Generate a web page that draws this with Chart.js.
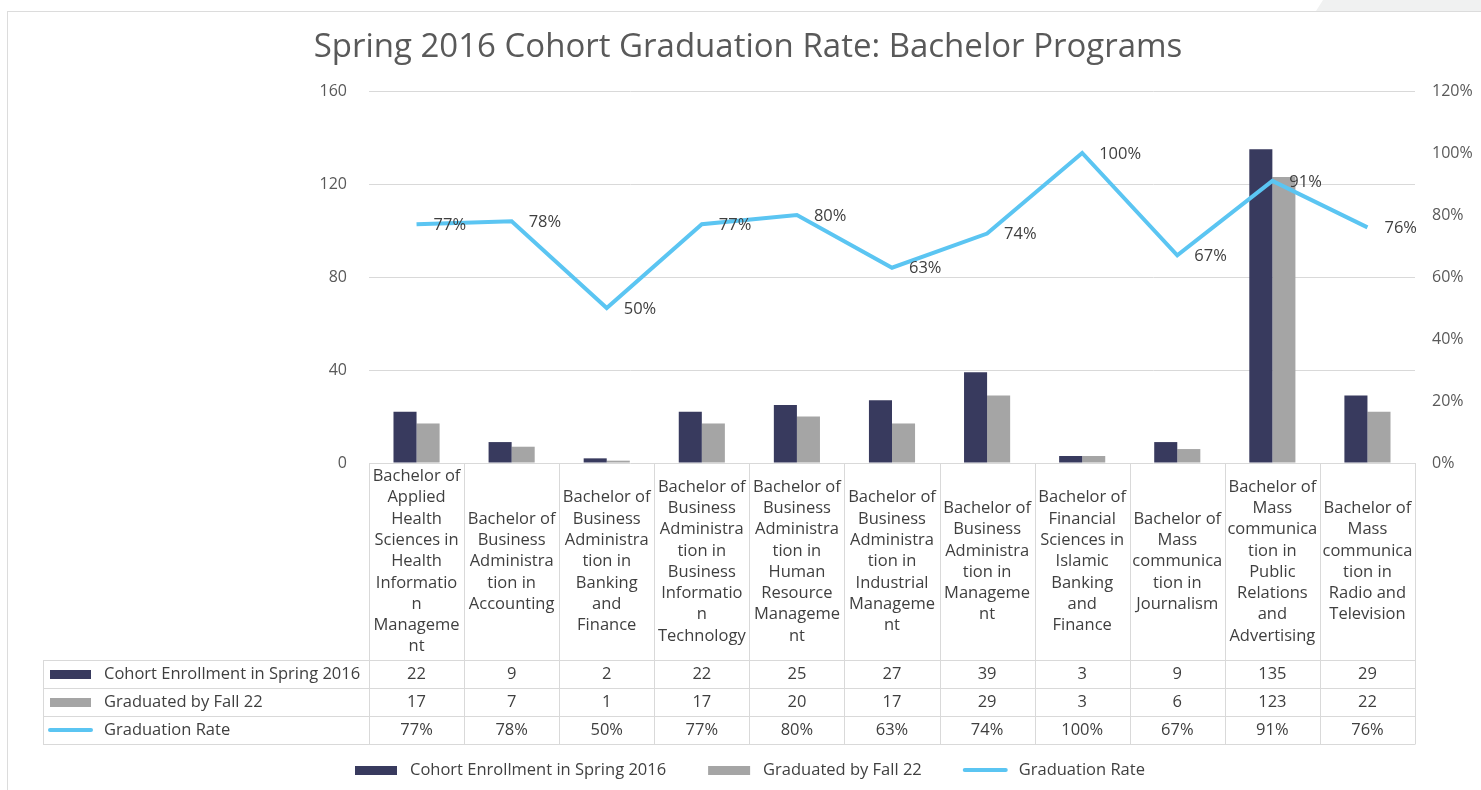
<!DOCTYPE html>
<html><head><meta charset="utf-8">
<script src="https://cdn.jsdelivr.net/npm/chart.js@4.4.0/dist/chart.umd.min.js"></script>
<style>
html,body{margin:0;padding:0;background:#fff;}
#wrap{position:relative;width:1481px;height:790px;overflow:hidden;background:#fff;}
#frame{position:absolute;left:7px;top:11px;width:1520px;height:820px;border:1px solid #dcdcdc;box-sizing:border-box;}
#corner{position:absolute;left:1316px;top:0;width:170px;height:11px;background:#f0f1f1;clip-path:polygon(7px 0,100% 0,100% 100%,0 100%);}
canvas{position:absolute;left:0;top:0;}
</style></head><body>
<div id="wrap"><div id="corner"></div><div id="frame"></div><canvas id="c" width="1481" height="790"></canvas></div>
<script>
const titleText = 'Spring 2016 Cohort Graduation Rate: Bachelor Programs';
const categories = [
  ['Bachelor of','Applied','Health','Sciences in','Health','Informatio','n','Manageme','nt'],
  ['Bachelor of','Business','Administra','tion in','Accounting'],
  ['Bachelor of','Business','Administra','tion in','Banking','and','Finance'],
  ['Bachelor of','Business','Administra','tion in','Business','Informatio','n','Technology'],
  ['Bachelor of','Business','Administra','tion in','Human','Resource','Manageme','nt'],
  ['Bachelor of','Business','Administra','tion in','Industrial','Manageme','nt'],
  ['Bachelor of','Business','Administra','tion in','Manageme','nt'],
  ['Bachelor of','Financial','Sciences in','Islamic','Banking','and','Finance'],
  ['Bachelor of','Mass','communica','tion in','Journalism'],
  ['Bachelor of','Mass','communica','tion in','Public','Relations','and','Advertising'],
  ['Bachelor of','Mass','communica','tion in','Radio and','Television']
];
const seriesNames = ['Cohort Enrollment in Spring 2016', 'Graduated by Fall 22', 'Graduation Rate'];
const enrollment = [22, 9, 2, 22, 25, 27, 39, 3, 9, 135, 29];
const graduated  = [17, 7, 1, 17, 20, 17, 29, 3, 6, 123, 22];
const gradRate   = [77, 78, 50, 77, 80, 63, 74, 100, 67, 91, 76];
const leftTicks  = [0, 40, 80, 120, 160];
const rightTicks = [0, 20, 40, 60, 80, 100, 120];

const colors = {dark:'#383a5e', grey:'#a5a5a5', line:'#5bc5f2', grid:'#d9d9d9', text:'#3f3f3f', axis:'#595959'};
const FONT = '"Open Sans", "DejaVu Sans", sans-serif';
const TXT = '16.5px ' + FONT;

const tablePlugin = {
  id: 'tablePlugin',
  afterDraw(chart) {
    const ctx = chart.ctx, xs = chart.scales.x, area = chart.chartArea;
    const n = categories.length;
    const cw = (area.right - area.left) / n;
    const top = area.bottom;
    const rowsY = [660, 688, 716, 744];
    const tableLeft = 43;
    ctx.save();
    ctx.strokeStyle = colors.grid; ctx.lineWidth = 1;
    const line = (x1, y1, x2, y2) => { ctx.beginPath(); ctx.moveTo(x1, y1); ctx.lineTo(x2, y2); ctx.stroke(); };
    for (let i = 0; i <= n; i++) {
      const px = Math.round(area.left + i * cw) + 0.5;
      line(px, top, px, rowsY[3] + 0.5);
    }
    line(tableLeft + 0.5, rowsY[0], tableLeft + 0.5, rowsY[3] + 0.5);
    rowsY.forEach(y => line(tableLeft, y + 0.5, area.right, y + 0.5));

    ctx.fillStyle = colors.text;
    ctx.font = TXT;
    ctx.textAlign = 'center'; ctx.textBaseline = 'middle';
    const lh = 21.3, cy = (top + rowsY[0]) / 2;
    categories.forEach((lines, i) => {
      const cx = xs.getPixelForValue(i);
      const start = cy - (lines.length - 1) * lh / 2;
      lines.forEach((t, j) => ctx.fillText(t, cx, start + j * lh));
    });
    const rows = [enrollment.map(String), graduated.map(String), gradRate.map(v => v + '%')];
    rows.forEach((r, ri) => {
      const y = rowsY[ri] + 14;
      r.forEach((t, i) => ctx.fillText(t, xs.getPixelForValue(i), y));
    });

    // row keys
    ctx.textAlign = 'left';
    ctx.fillStyle = colors.dark; ctx.fillRect(50, 670, 41, 9);
    ctx.fillStyle = colors.grey; ctx.fillRect(50, 698, 41, 9);
    ctx.strokeStyle = colors.line; ctx.lineWidth = 4; ctx.lineCap = 'round';
    line(50, 730, 91, 730);
    ctx.fillStyle = colors.text;
    seriesNames.forEach((s, i) => ctx.fillText(s, 104, rowsY[i] + 14));

    // data labels on the line
    const meta = chart.getDatasetMeta(2);
    meta.data.forEach((pt, i) => ctx.fillText(gradRate[i] + '%', pt.x + 17, pt.y + 1));

    // bottom legend
    let lx = 355; const ly = 770;
    seriesNames.forEach((s, i) => {
      if (i < 2) {
        ctx.fillStyle = i === 0 ? colors.dark : colors.grey;
        ctx.fillRect(lx, ly - 4, 42, 9);
      } else {
        ctx.strokeStyle = colors.line; ctx.lineWidth = 4; ctx.lineCap = 'round';
        line(lx + 1, ly, lx + 42, ly);
      }
      ctx.fillStyle = colors.text;
      ctx.fillText(s, lx + 55, ly);
      lx += 55 + ctx.measureText(s).width + 42;
    });
    ctx.restore();
  }
};

new Chart(document.getElementById('c'), {
  data: {
    labels: categories.map(c => c.join(' ')),
    datasets: [
      {type:'bar', label: seriesNames[0], data: enrollment, backgroundColor: colors.dark, yAxisID:'y', order:2, barPercentage:1, categoryPercentage:0.485},
      {type:'bar', label: seriesNames[1], data: graduated, backgroundColor: colors.grey, yAxisID:'y', order:2, barPercentage:1, categoryPercentage:0.485},
      {type:'line', label: seriesNames[2], data: gradRate, borderColor: colors.line, backgroundColor: colors.line, borderWidth:4, pointRadius:0, tension:0, yAxisID:'y1', order:0, clip:false}
    ]
  },
  options: {
    responsive: false,
    animation: false,
    layout: {padding: {left: 15, right: 0, top: 0, bottom: 327}},
    plugins: {
      legend: {display: false},
      tooltip: {enabled: false},
      title: {display: true, text: titleText, color: colors.axis, font: {family: FONT, size: 33, weight: 'normal', lineHeight: 1.2}, padding: {top: 28, bottom: 23.4}}
    },
    scales: {
      x: {ticks: {display: false}, grid: {display: false, drawTicks: false}, border: {display: false},
          afterFit(s) { s.height = 0; }},
      y: {position: 'left', min: 0, max: 160,
          afterBuildTicks(s) { s.ticks = leftTicks.map(v => ({value: v})); },
          ticks: {color: colors.axis, font: {family: FONT, size: 16}, padding: 22},
          grid: {color: colors.grid, drawTicks: false}, border: {display: false},
          afterFit(s) { s.width = 369 - 15; }},
      y1: {position: 'right', min: 0, max: 120,
          afterBuildTicks(s) { s.ticks = rightTicks.map(v => ({value: v})); },
          ticks: {color: colors.axis, font: {family: FONT, size: 16}, padding: 17, callback: v => v + '%'},
          grid: {display: false, drawTicks: false}, border: {display: false},
          afterFit(s) { s.width = 1481 - 1415; }}
    }
  },
  plugins: [tablePlugin]
});
</script>
</body></html>
